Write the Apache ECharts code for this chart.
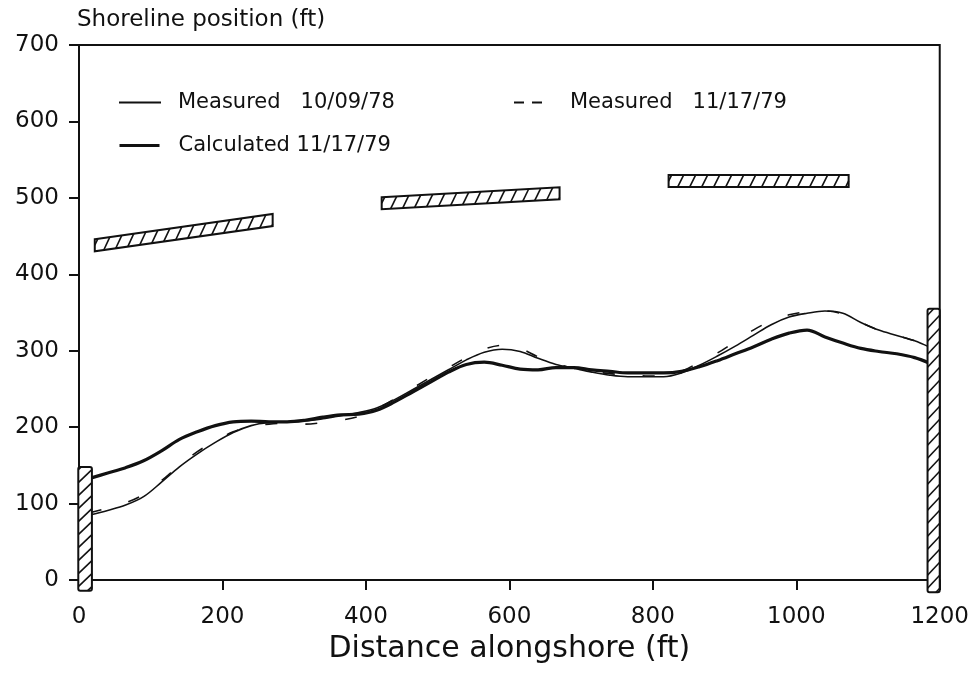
<!DOCTYPE html>
<html>
<head>
<meta charset="utf-8">
<script src="https://cdn.jsdelivr.net/npm/echarts@6/dist/echarts.min.js"></script>
<style>
  html, body { margin: 0; padding: 0; background: #fff; }
  #chart { width: 972px; height: 673px; }
</style>
</head>
<body>
<div id="chart"></div>
<script>
// distance alongshore (ft)
const distance = [15, 40, 65, 90, 115, 140, 165, 190, 215, 240, 265, 290, 315, 340, 365, 390,
  415, 440, 465, 490, 515, 540, 565, 590, 615, 640, 665, 690, 715, 740, 765, 790,
  815, 840, 865, 890, 915, 940, 965, 990, 1015, 1040, 1065, 1090, 1115, 1140, 1165, 1185];
// shoreline position (ft)
const measured78 = [85, 91, 98, 109, 128, 148, 165, 180, 193, 202, 206, 207, 208, 211, 215, 219,
  225, 236, 249, 262, 275, 288, 298, 302, 299, 290, 282, 277, 272, 268, 266, 266,
  266, 271, 281, 293, 306, 320, 334, 344, 349, 352, 349, 337, 327, 320, 313, 305];
const measured79 = [88, 94, 101, 112, 130, 150, 168, 182, 194, 201, 204, 205, 204, 206, 209, 214,
  224, 237, 251, 265, 278, 291, 302, 307, 303, 292, 283, 277, 273, 270, 268, 267,
  267, 273, 285, 297, 312, 327, 339, 347, 351, 352, 348, 337, 327, 320, 313, 306];
const calculated79 = [133, 140, 147, 156, 169, 184, 194, 202, 207, 208, 207, 207, 209, 213, 216, 217,
  222, 233, 246, 259, 272, 282, 285, 281, 276, 275, 278, 278, 275, 273, 271, 271,
  271, 273, 279, 287, 296, 305, 315, 323, 327, 318, 310, 303, 299, 296, 291, 284];

// breakwaters: start (x,y) and end (x,y), centre line
const bwStartX = [22, 422, 822];
const bwStartY = [438, 493, 522];
const bwEndX = [270, 670, 1073];
const bwEndY = [471, 506, 522];
// end walls (groins)
const wallLeft = [-1, 1183];
const wallRight = [18, 1200];
const wallBottom = [-14, -16];
const wallTop = [148, 355];

const xTicks = { min: 0, max: 1200, interval: 200 };
const yTicks = { min: 0, max: 700, interval: 100 };

const pair = (xs, ys) => xs.map((x, i) => [x, ys[i]]);
const FONT = 'DejaVu Sans';
const INK = '#111';

let myChart = echarts.init(document.getElementById('chart'));

// hatched breakwater, vertical ends
function renderBreakwater(params, api) {
  const a = api.coord([api.value(0), api.value(1)]);
  const b = api.coord([api.value(2), api.value(3)]);
  const h = 12, half = h / 2, step = 12, d = 6;
  const yb = x => a[1] + (b[1] - a[1]) * (x - a[0]) / (b[0] - a[0]) + half;
  const children = [{
    type: 'polygon',
    shape: { points: [[a[0], a[1] - half], [b[0], b[1] - half], [b[0], b[1] + half], [a[0], a[1] + half]] },
    style: { fill: '#fff', stroke: INK, lineWidth: 2 }
  }];
  for (let t = a[0] - d + 3; t < b[0]; t += step) {
    const s0 = Math.max(0, (a[0] - t) / d), s1 = Math.min(1, (b[0] - t) / d);
    if (s1 <= s0) continue;
    const p = s => { const x = t + s * d; return [x, yb(x) - s * h]; };
    const p0 = p(s0), p1 = p(s1);
    children.push({ type: 'line', shape: { x1: p0[0], y1: p0[1], x2: p1[0], y2: p1[1] }, style: { stroke: INK, lineWidth: 1.6 } });
  }
  return { type: 'group', children };
}

// hatched end wall
function renderWall(params, api) {
  const lb = api.coord([api.value(0), api.value(2)]);
  const rt = api.coord([api.value(1), api.value(3)]);
  const w = rt[0] - lb[0], step = 13, d = 13;
  const children = [{
    type: 'rect',
    shape: { x: lb[0], y: rt[1], width: w, height: lb[1] - rt[1], r: 2 },
    style: { fill: '#fff', stroke: INK, lineWidth: 2 }
  }];
  for (let t = lb[1] + d - 4; t > rt[1]; t -= step) {
    const s0 = Math.max(0, (t - lb[1]) / d), s1 = Math.min(1, (t - rt[1]) / d);
    if (s1 <= s0) continue;
    children.push({ type: 'line', shape: { x1: lb[0] + s0 * w, y1: t - s0 * d, x2: lb[0] + s1 * w, y2: t - s1 * d }, style: { stroke: INK, lineWidth: 1.6 } });
  }
  return { type: 'group', children };
}

const legendText = { fontFamily: FONT, fontSize: 21, color: INK };
const noSymbol = { opacity: 0, borderWidth: 0 };

let option = {
  backgroundColor: '#fff',
  animation: false,
  title: {
    text: 'Shoreline position (ft)',
    left: 72, top: 4,
    textStyle: { fontFamily: FONT, fontSize: 23, fontWeight: 'normal', color: INK }
  },
  legend: [
    { data: ['Measured 10/09/78'], left: 113, top: 87, itemWidth: 42, itemHeight: 20, itemStyle: noSymbol,
      lineStyle: { width: 2 },
      formatter: n => n.replace(' ', '   '), textStyle: Object.assign({ padding: [0, 0, 0, 12] }, legendText) },
    { data: ['Calculated 11/17/79'], left: 113, top: 130, itemWidth: 40, itemHeight: 20, itemStyle: noSymbol,
      lineStyle: { width: 3 },
      textStyle: Object.assign({ padding: [0, 0, 0, 14] }, legendText) },
    { data: ['Measured 11/17/79'], left: 508, top: 87, itemWidth: 30, itemHeight: 20, itemStyle: noSymbol,
      lineStyle: { type: [10, 8], width: 2 },
      formatter: n => n.replace(' ', '   '), textStyle: Object.assign({ padding: [0, 0, 0, 21] }, legendText) }
  ],
  grid: { left: 79, right: 32, top: 45, bottom: 93, show: true, borderColor: INK, borderWidth: 2 },
  xAxis: {
    type: 'value', min: xTicks.min, max: xTicks.max, interval: xTicks.interval,
    name: 'Distance alongshore (ft)', nameLocation: 'middle', nameGap: 54,
    nameTextStyle: { fontFamily: FONT, fontSize: 30, color: INK },
    axisLine: { lineStyle: { color: INK, width: 2 } },
    axisTick: { length: 10, lineStyle: { color: INK, width: 2 } },
    axisLabel: { fontFamily: FONT, fontSize: 23, color: INK, margin: 26, formatter: v => String(v) },
    splitLine: { show: false }
  },
  yAxis: {
    type: 'value', min: yTicks.min, max: yTicks.max, interval: yTicks.interval,
    axisLine: { show: true, lineStyle: { color: INK, width: 2 } },
    axisTick: { show: true, length: 10, lineStyle: { color: INK, width: 2 } },
    axisLabel: { fontFamily: FONT, fontSize: 23, color: INK, margin: 20, formatter: v => String(v) },
    splitLine: { show: false }
  },
  series: [
    { name: 'Measured 10/09/78', type: 'line', data: pair(distance, measured78), symbol: 'none', smooth: 0.35,
      lineStyle: { color: INK, width: 1.6 }, itemStyle: { color: INK }, z: 3 },
    { name: 'Calculated 11/17/79', type: 'line', data: pair(distance, calculated79), symbol: 'none', smooth: 0.35,
      lineStyle: { color: INK, width: 3.2 }, itemStyle: { color: INK }, z: 3 },
    { name: 'Measured 11/17/79', type: 'line', data: pair(distance, measured79), symbol: 'none', smooth: 0.35,
      lineStyle: { color: INK, width: 1.6, type: [12, 28] }, itemStyle: { color: INK }, z: 3 },
    { type: 'custom', renderItem: renderBreakwater, clip: false, z: 4,
      encode: { x: [0, 2], y: [1, 3] },
      data: bwStartX.map((x, i) => [x, bwStartY[i], bwEndX[i], bwEndY[i]]) },
    { type: 'custom', renderItem: renderWall, clip: false, z: 5,
      encode: { x: [0, 1], y: [2, 3] },
      data: wallLeft.map((x, i) => [x, wallRight[i], wallBottom[i], wallTop[i]]) }
  ]
};
option && myChart.setOption(option, true);
</script>
</body>
</html>
